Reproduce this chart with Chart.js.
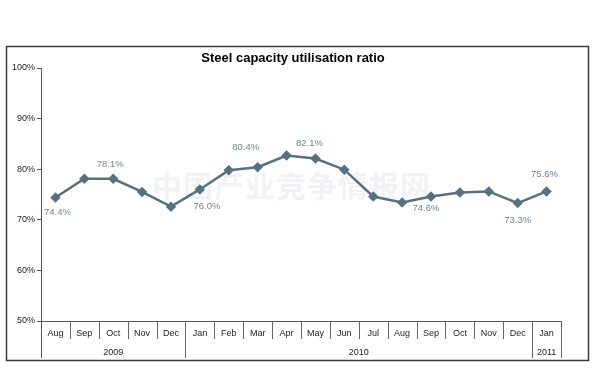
<!DOCTYPE html>
<html>
<head>
<meta charset="utf-8">
<script src="https://cdn.jsdelivr.net/npm/chart.js@4/dist/chart.umd.min.js"></script>
<style>
html,body{margin:0;padding:0;background:#fff;}
#wrap{width:594px;height:380px;position:relative;}
</style>
</head>
<body>
<div id="wrap"><canvas id="c" width="594" height="380"></canvas></div>
<script>
const months = ['Aug','Sep','Oct','Nov','Dec','Jan','Feb','Mar','Apr','May','Jun','Jul','Aug','Sep','Oct','Nov','Dec','Jan'];
const utilisation = [74.4, 78.1, 78.1, 75.5, 72.6, 76.0, 79.8, 80.4, 82.7, 82.1, 79.9, 74.6, 73.4, 74.6, 75.4, 75.6, 73.3, 75.6];
const years = ['2009','2010','2011'];
const yearMonthCounts = [5, 12, 1];
const yTicks = [50, 60, 70, 80, 90, 100];
const labelledPoints = [0, 2, 5, 7, 9, 13, 16, 17];
const chartTitle = 'Steel capacity utilisation ratio';
const watermark = '中国产业竞争情报网';

const LINE = '#587180';
const LABEL = '#6f8695';

// placement of value labels relative to their points (dx, dy)
const labelOffsets = {0:[2,15],2:[-3,-14],5:[7,17],7:[-12,-20],9:[-6,-15],13:[-5,12],16:[0,17],17:[-2,-17]};

const decor = {
  id: 'decor',
  beforeDraw(chart) {
    const ctx = chart.ctx;
    ctx.save();
    ctx.fillStyle = 'rgba(236,239,242,0.8)';
    ctx.font = 'bold 30px "Noto Sans CJK SC"';
    ctx.textAlign = 'left';
    ctx.textBaseline = 'middle';
    let wx = 152;
    for (const ch of watermark) { ctx.fillText(ch, wx, 186); wx += 31; }
    ctx.restore();
  },
  afterDraw(chart) {
    const ctx = chart.ctx;
    const xs = chart.scales.x;
    const area = chart.chartArea;
    const step = xs.getPixelForValue(1) - xs.getPixelForValue(0);
    ctx.save();
    ctx.strokeStyle = '#3a3a3a';
    ctx.lineWidth = 1.5;
    ctx.strokeRect(6.5, 46.5, 582, 314);
    ctx.fillStyle = '#000';
    ctx.font = 'bold 13px "Liberation Sans", Arial, sans-serif';
    ctx.textAlign = 'center';
    ctx.textBaseline = 'middle';
    ctx.fillText(chartTitle, 293, 58);
    ctx.strokeStyle = '#666';
    ctx.lineWidth = 1;
    ctx.font = '9px "Liberation Sans", Arial, sans-serif';
    ctx.fillStyle = '#222';
    for (let i = 0; i < months.length; i++) {
      const cx = xs.getPixelForValue(i);
      const left = Math.round(cx - step / 2) + 0.5;
      ctx.beginPath();
      ctx.moveTo(left, area.bottom);
      ctx.lineTo(left, area.bottom + 18);
      ctx.stroke();
      ctx.fillText(months[i], cx, area.bottom + 13);
    }
    let start = 0;
    const ybottom = area.bottom + 37;
    for (let k = 0; k < years.length; k++) {
      const end = start + yearMonthCounts[k] - 1;
      const l = xs.getPixelForValue(start) - step / 2;
      const r = xs.getPixelForValue(end) + step / 2;
      ctx.beginPath();
      ctx.moveTo(Math.round(l) + 0.5, area.bottom);
      ctx.lineTo(Math.round(l) + 0.5, ybottom);
      ctx.moveTo(Math.round(r) + 0.5, area.bottom);
      ctx.lineTo(Math.round(r) + 0.5, ybottom);
      ctx.stroke();
      ctx.fillText(years[k], (l + r) / 2, area.bottom + 32);
      start = end + 1;
    }
    const meta = chart.getDatasetMeta(0);
    ctx.fillStyle = LABEL;
    ctx.font = '9.5px "Liberation Sans", Arial, sans-serif';
    for (const i of labelledPoints) {
      const p = meta.data[i];
      const off = labelOffsets[i] || [0, -14];
      ctx.fillText(utilisation[i].toFixed(1) + '%', p.x + off[0], p.y + off[1]);
    }
    ctx.restore();
  }
};

new Chart(document.getElementById('c'), {
  type: 'line',
  data: {
    labels: months,
    datasets: [{
      data: utilisation,
      borderColor: LINE,
      backgroundColor: LINE,
      borderWidth: 2.5,
      pointStyle: 'rectRot',
      pointRadius: 3.5,
      pointBackgroundColor: LINE,
      pointBorderColor: LINE,
      tension: 0,
      fill: false
    }]
  },
  options: {
    responsive: false,
    animation: false,
    devicePixelRatio: 1,
    layout: { padding: { left: 0, right: 33, top: 68, bottom: 0 } },
    plugins: { legend: { display: false }, tooltip: { enabled: false }, title: { display: false } },
    scales: {
      x: {
        type: 'category',
        offset: true,
        grid: { display: false },
        border: { display: true, color: '#555', width: 1 },
        ticks: { display: false },
        afterFit(s) { s.height = 59; }
      },
      y: {
        min: 50, max: 100,
        afterBuildTicks(s) { s.ticks = yTicks.map(v => ({ value: v })); },
        grid: { display: true, drawOnChartArea: false, drawTicks: true, tickLength: 4, color: '#555' },
        border: { display: true, color: '#555', width: 1 },
        ticks: {
          padding: 2,
          color: '#222',
          font: { family: '"Liberation Sans", Arial, sans-serif', size: 9 },
          callback: v => v + '%'
        },
        afterFit(s) { s.width = 41; }
      }
    }
  },
  plugins: [decor, {
    id: 'axisExt',
    afterDraw(chart) {
      const ctx = chart.ctx, a = chart.chartArea;
      ctx.save();
      ctx.strokeStyle = '#555'; ctx.lineWidth = 1;
      ctx.beginPath();
      ctx.moveTo(Math.round(a.left) + 0.5, a.bottom);
      ctx.lineTo(Math.round(a.left) + 0.5, a.bottom + 37);
      ctx.stroke();
      ctx.restore();
    }
  }]
});
</script>
</body>
</html>
